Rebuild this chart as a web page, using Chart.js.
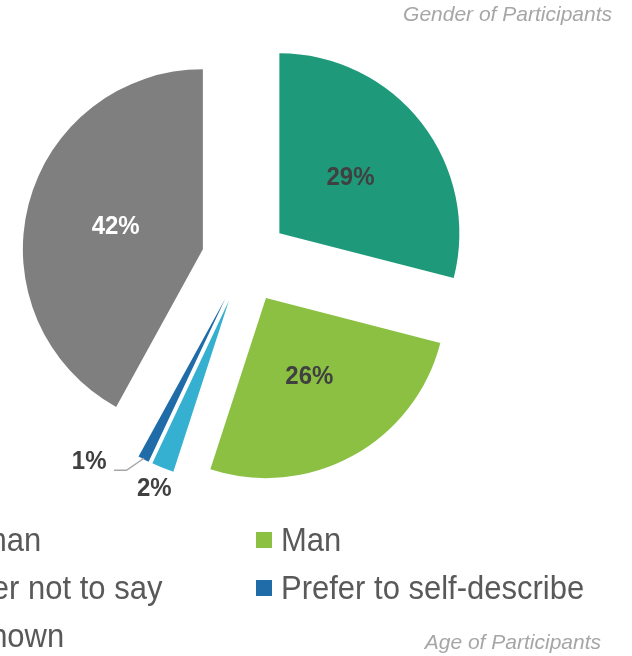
<!DOCTYPE html>
<html>
<head>
<meta charset="utf-8">
<script src="https://cdn.jsdelivr.net/npm/chart.js@4.4.0/dist/chart.umd.min.js"></script>
<style>
	html, body { margin: 0; padding: 0; background: #fff; overflow: hidden; }
	#wrap { position: relative; width: 632px; height: 656px; }
</style>
</head>
<body>
<div id="wrap"><canvas id="canvas0" width="632" height="656"></canvas></div>
<script>
// Chart data
var categories = ['Woman', 'Man', 'Prefer not to say', 'Prefer to self-describe', 'Unknown'];
var shares = [29, 26, 2, 1, 42];
var sliceColors = ['#1e9a7a', '#8bc043', '#36b0d0', '#1f6ca8', '#7f7f7f'];
var chartTitle = 'Gender of Participants';
var nextTitle = 'Age of Participants';

var SHIFT = 43.5;	// how far every slice is pulled out
var RADIUS = 180;
var FONT = '"Liberation Sans", Arial, sans-serif';

function stretchText(ctx, txt, x, y, sy) {
	ctx.save();
	ctx.translate(x, y);
	ctx.scale(1, sy);
	ctx.fillText(txt, 0, 0);
	ctx.restore();
}

// Explode every slice by the same distance (the built-in offset also
// resizes and narrows the arcs, so move the arc centers instead)
var evenExplode = {
	id: 'evenExplode',
	beforeDatasetsDraw: function(chart) {
		let area = chart.chartArea;
		let cx = (area.left + area.right) / 2, cy = (area.top + area.bottom) / 2;
		chart.getDatasetMeta(0).data.forEach(arc => {
			let mid = (arc.startAngle + arc.endAngle) / 2;
			arc.x = cx + Math.cos(mid) * SHIFT;
			arc.y = cy + Math.sin(mid) * SHIFT;
		});
	}
};

var extras = {
	id: 'extras',
	afterDraw: function(chart) {
		let ctx = chart.ctx;
		let arcs = chart.getDatasetMeta(0).data;
		ctx.save();
		// Percent labels
		arcs.forEach((arc, i) => {
			let p = arc.getProps(['x', 'y', 'startAngle', 'endAngle', 'outerRadius']);
			let mid = (p.startAngle + p.endAngle) / 2;
			let dx = Math.cos(mid), dy = Math.sin(mid);
			let r = p.outerRadius;
			let txt = shares[i] + '%';
			ctx.font = 'bold 24px ' + FONT;
			ctx.textBaseline = 'middle';
			if(shares[i] >= 5) {
				ctx.fillStyle = (i === 4) ? '#ffffff' : '#404040';
				ctx.textAlign = 'center';
				stretchText(ctx, txt, p.x + dx * r * 0.5, p.y + dy * r * 0.5, 1.08);
			} else if(shares[i] >= 2) {
				ctx.fillStyle = '#404040';
				ctx.textAlign = 'center';
				stretchText(ctx, txt, p.x + dx * (r + 23), p.y + dy * (r + 23), 1.08);
			} else {
				// Leader line for the smallest slice
				let sx = p.x + dx * (r - 1);
				let sy = p.y + dy * (r - 1);
				let ex = sx - 17.5, ey = sy + 12;
				ctx.strokeStyle = '#a6a6a6';
				ctx.lineWidth = 1.5;
				ctx.beginPath();
				ctx.moveTo(sx, sy);
				ctx.lineTo(ex, ey);
				ctx.lineTo(ex - 12.5, ey);
				ctx.stroke();
				ctx.fillStyle = '#404040';
				ctx.textAlign = 'right';
				stretchText(ctx, txt, ex - 20, ey - 8, 1.08);
			}
		});
		// Legend in two columns
		ctx.font = '31px ' + FONT;
		ctx.textAlign = 'left';
		ctx.textBaseline = 'alphabetic';
		let colX = [-90, 256];
		categories.forEach((name, i) => {
			let col = i % 2, row = Math.floor(i / 2);
			let base = 551 + row * 48;
			ctx.fillStyle = sliceColors[i];
			ctx.fillRect(colX[col], base - 19, 16, 16);
			ctx.fillStyle = '#595959';
			stretchText(ctx, name, colX[col] + 25, base, 1.08);
		});
		// Titles
		ctx.font = 'italic 21px ' + FONT;
		ctx.fillStyle = '#a6a6a6';
		ctx.textAlign = 'right';
		ctx.fillText(chartTitle, 612, 21);
		ctx.fillText(nextTitle, 601, 649);
		ctx.restore();
	}
};

let ctx = document.getElementById('canvas0').getContext('2d');
let chartJsOptions = {
	type: 'pie',
	data: {
		labels: categories,
		datasets: [{
			data: shares,
			backgroundColor: sliceColors,
			borderWidth: 0
		}]
	},
	options: {
		responsive: false,
		animation: false,
		events: [],
		radius: RADIUS,
		layout: {
			padding: { left: 0, right: 142, top: 0, bottom: 136 }
		},
		plugins: {
			legend: { display: false },
			tooltip: { enabled: false },
			title: { display: false }
		}
	},
	plugins: [evenExplode, extras]
};
let pie = new Chart(ctx, chartJsOptions);
</script>
</body>
</html>
